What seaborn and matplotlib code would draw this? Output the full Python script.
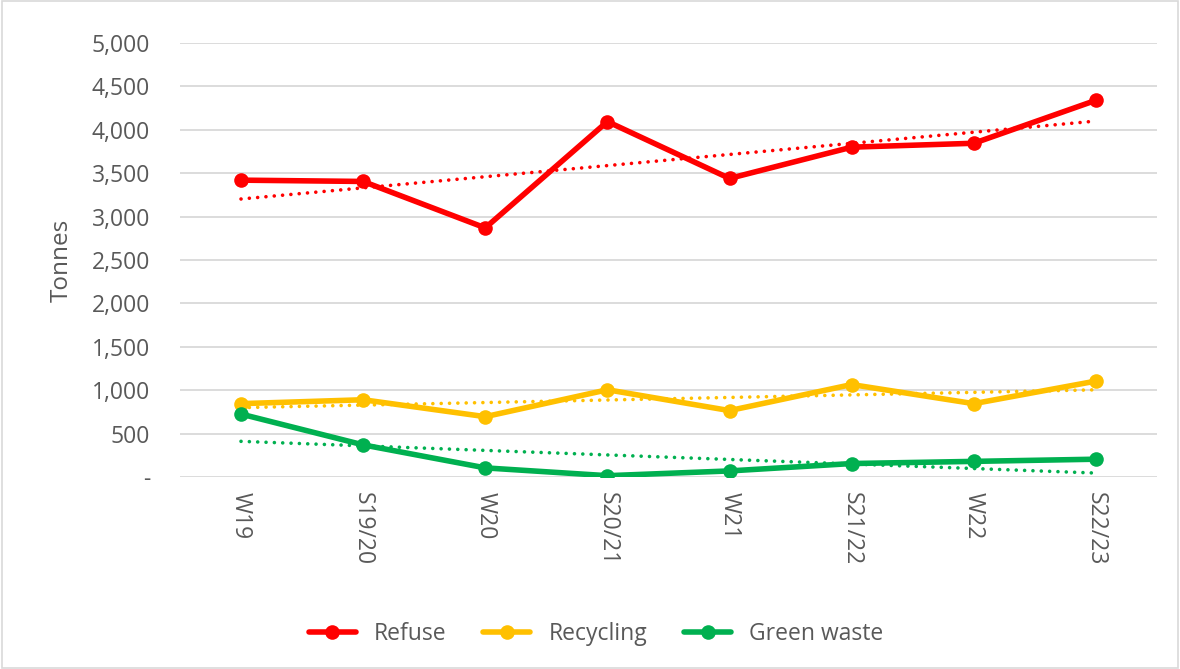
import matplotlib.pyplot as plt
from matplotlib.patches import Rectangle
from matplotlib.ticker import FuncFormatter
import numpy as np
import pandas as pd
import seaborn as sns

# values (tonnes)
periods = ["W19", "S19/20", "W20", "S20/21", "W21", "S21/22", "W22", "S22/23"]
refuse = [3420, 3405, 2870, 4095, 3440, 3800, 3845, 4340]
recycling = [845, 890, 695, 1005, 765, 1065, 845, 1105]
green_waste = [725, 370, 105, 15, 70, 155, 180, 205]

series_names = ["Refuse", "Recycling", "Green waste"]
colours = ["#FF0000", "#FFC000", "#00B050"]

rows = []
for name, vals in zip(series_names, [refuse, recycling, green_waste]):
    for i, v in enumerate(vals):
        rows.append({"pos": i, "period": periods[i], "series": name, "tonnes": v})
df = pd.DataFrame(rows)

sns.set_style("white")
plt.rcParams["font.family"] = ["Open Sans", "DejaVu Sans"]
grey = "#595959"

fig = plt.figure(figsize=(11.8, 6.69), dpi=100)
ax = fig.add_axes([0.1525, 0.287, 0.828, 0.6487])

# dotted linear trend lines
for name, col in zip(series_names, colours):
    sns.regplot(data=df[df.series == name], x="pos", y="tonnes", ax=ax,
                scatter=False, ci=None, truncate=True,
                line_kws={"color": col, "linestyle": (0, (0.01, 2.3)),
                          "linewidth": 2.6, "dash_capstyle": "round"})

sns.lineplot(data=df, x="pos", y="tonnes", hue="series", palette=colours,
             hue_order=series_names, marker="o", markersize=10.5,
             markeredgewidth=0, linewidth=4, ax=ax, legend=True)

ax.set_xlim(-0.5, 7.5)
ax.set_ylim(0, 5000)
ax.set_yticks(range(0, 5001, 500))
ax.yaxis.set_major_formatter(FuncFormatter(lambda v, p: "-" if v == 0 else f"{int(v):,}"))
ax.set_xticks(range(len(periods)))
ax.set_xticklabels(periods, rotation=-90, va="top", ha="center")
ax.tick_params(axis="both", length=0, colors=grey, labelsize=16.5)
ax.tick_params(axis="y", pad=21.5)
ax.tick_params(axis="x", pad=11)
ax.grid(axis="y", color="#D9D9D9", linewidth=1.3)
ax.set_axisbelow(True)
for s in ax.spines.values():
    s.set_visible(False)

ax.set_xlabel("")
ax.set_ylabel("Tonnes", color=grey, fontsize=17.5, labelpad=13)

leg = ax.legend(loc="center", bbox_to_anchor=(0.426, -0.362), ncol=3, frameon=False,
                fontsize=16.5, handlelength=2.05, columnspacing=1.6, handletextpad=0.8)
for t in leg.get_texts():
    t.set_color(grey)

fig.patches.append(Rectangle((0.002, 0.002), 0.996, 0.996, transform=fig.transFigure,
                             fill=False, edgecolor="#D9D9D9", linewidth=1.2))

fig.savefig("out.png", dpi=100)
